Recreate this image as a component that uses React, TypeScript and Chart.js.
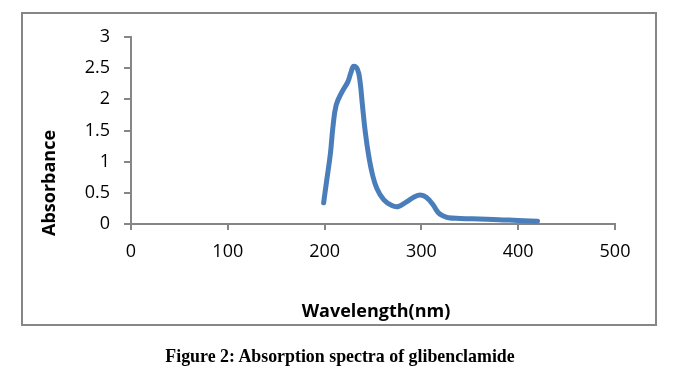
import React, { useEffect, useRef } from "react";
import { Chart, registerables } from "chart.js";

Chart.register(...registerables);

// Data
const wavelengths = [199, 202, 206, 208.5, 212, 218, 224, 227, 230, 234, 236.5, 239, 242, 245.5, 249.5, 254, 261, 269, 276, 285, 292, 299, 305, 312, 317.5, 322.5, 328, 340, 360, 380, 400, 420];
const absorbance = [0.34, 0.68, 1.13, 1.54, 1.91, 2.12, 2.28, 2.42, 2.53, 2.48, 2.30, 1.92, 1.48, 1.10, 0.79, 0.57, 0.39, 0.30, 0.28, 0.36, 0.43, 0.465, 0.43, 0.31, 0.18, 0.13, 0.10, 0.09, 0.08, 0.07, 0.055, 0.045];
const xRange = [0, 500];
const xStep = 100;
const yRange = [0, 3];
const yStep = 0.5;
const xTitle = "Wavelength(nm)";
const yTitle = "Absorbance";
const caption = "Figure 2: Absorption spectra of glibenclamide";

const W = 687;
const H = 372;
const AXIS = "#868686";
const LINE = "#4a7ebb";
const FONT = "'Open Sans', sans-serif";

export default function App() {
  const ref = useRef<HTMLCanvasElement | null>(null);

  useEffect(() => {
    if (!ref.current) return;
    const points = wavelengths.map((x, i) => ({ x, y: absorbance[i] }));
    const chart = new Chart(ref.current, {
      type: "scatter",
      data: {
        datasets: [
          {
            data: points,
            showLine: true,
            borderColor: LINE,
            backgroundColor: LINE,
            borderWidth: 5,
            borderCapStyle: "round",
            borderJoinStyle: "round",
            pointRadius: 0,
            tension: 0.4,
          } as any,
        ],
      },
      options: {
        animation: false,
        responsive: false,
        maintainAspectRatio: false,
        layout: { padding: { left: 71, right: 72, top: 37, bottom: 108 } },
        plugins: { legend: { display: false }, tooltip: { enabled: false }, title: { display: false } },
        scales: {
          x: {
            type: "linear",
            min: xRange[0],
            max: xRange[1],
            afterFit: (s: any) => {
              s.height = 40;
            },
            ticks: {
              stepSize: xStep,
              color: "#000",
              padding: 11,
              maxRotation: 0,
              font: { family: FONT, size: 18 },
              callback: (v: any) => String(v),
            },
            grid: { drawOnChartArea: false, color: AXIS, lineWidth: 2, tickLength: 6 },
            border: { color: AXIS, width: 2 },
          },
          y: {
            type: "linear",
            min: yRange[0],
            max: yRange[1],
            afterFit: (s: any) => {
              s.width = 60;
            },
            ticks: {
              stepSize: yStep,
              color: "#000",
              padding: 14,
              font: { family: FONT, size: 18 },
              callback: (v: any) => String(v),
            },
            grid: { drawOnChartArea: false, color: AXIS, lineWidth: 2, tickLength: 7 },
            border: { color: AXIS, width: 2 },
          },
        },
      },
    });
    return () => chart.destroy();
  }, []);

  return (
    <div style={{ position: "absolute", left: 0, top: 0, width: W, height: H, background: "#fff", overflow: "hidden" }}>
      <div
        style={{
          position: "absolute",
          left: 21,
          top: 12,
          width: 636,
          height: 314,
          border: `2px solid ${AXIS}`,
          boxSizing: "border-box",
        }}
      />
      <canvas ref={ref} width={W} height={H} style={{ position: "absolute", left: 0, top: 0, width: W, height: H }} />
      <div
        style={{
          position: "absolute",
          left: 48,
          top: 183,
          transform: "translate(-50%, -50%) rotate(-90deg)",
          fontFamily: FONT,
          fontWeight: 700,
          fontSize: 18,
          lineHeight: "20px",
          whiteSpace: "nowrap",
          color: "#000",
        }}
      >
        {yTitle}
      </div>
      <div
        style={{
          position: "absolute",
          left: 376,
          top: 310,
          transform: "translate(-50%, -50%)",
          fontFamily: FONT,
          fontWeight: 700,
          fontSize: 18,
          lineHeight: "20px",
          whiteSpace: "nowrap",
          color: "#000",
        }}
      >
        {xTitle}
      </div>
      <div
        style={{
          position: "absolute",
          left: 340,
          top: 356,
          transform: "translate(-50%, -50%) scaleX(0.94)",
          fontFamily: "'Liberation Serif', 'Times New Roman', serif",
          fontWeight: 700,
          fontSize: 19,
          lineHeight: "20px",
          whiteSpace: "nowrap",
          color: "#000",
        }}
      >
        {caption}
      </div>
    </div>
  );
}
